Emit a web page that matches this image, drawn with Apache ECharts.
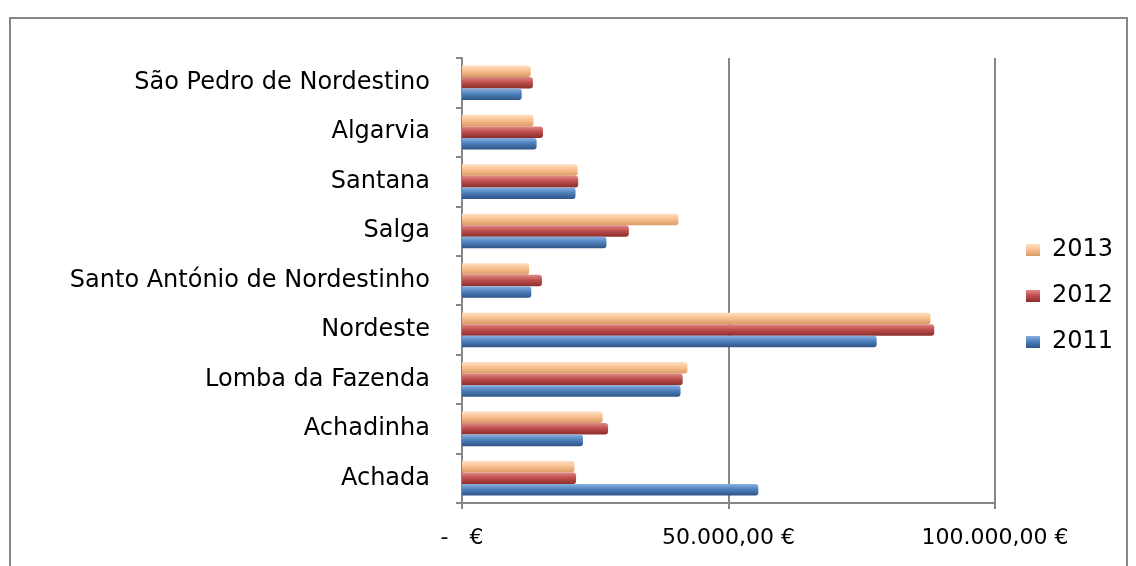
<!DOCTYPE html>
<html>
<head>
<meta charset="utf-8">
<script src="https://cdn.jsdelivr.net/npm/echarts@6/dist/echarts.min.js"></script>
<style>
  html, body { margin: 0; padding: 0; background: #fff; }
  #chart { width: 1136px; height: 566px; }
</style>
</head>
<body>
<div id="chart"></div>
<script>
// categories bottom -> top (echarts draws first category at the bottom)
const categories = [
  "Achada",
  "Achadinha",
  "Lomba da Fazenda",
  "Nordeste",
  "Santo António de Nordestinho",
  "Salga",
  "Santana",
  "Algarvia",
  "São Pedro de Nordestino",
];
const values2011 = [55600, 22700, 41000, 77800, 13000, 27100, 21300, 14000, 11200];
const values2012 = [21400, 27400, 41400, 88600, 15000, 31300, 21800, 15200, 13300];
const values2013 = [21100, 26400, 42300, 87900, 12600, 40600, 21700, 13400, 12900];
const xTicks = [0, 50000, 100000];

const fontFamily = "'DejaVu Sans', sans-serif";
const gray = "#868686";

function grad(light, base, dark) {
  return new echarts.graphic.LinearGradient(0, 0, 0, 1, [
    { offset: 0, color: light },
    { offset: 0.45, color: base },
    { offset: 1, color: dark },
  ]);
}

function euro(v) {
  if (v === 0) return "-   €";
  const s = String(Math.round(v)).replace(/\B(?=(\d{3})+(?!\d))/g, ".");
  return s + ",00 €";
}

const chart = echarts.init(document.getElementById("chart"));

// 2013 first so it sits on top of each group, like the original
const seriesConfig = [
  { name: "2013", data: values2013, color: "#FAC090", fill: grad("#fde0c4", "#FAC090", "#d89a66") },
  { name: "2012", data: values2012, color: "#C0504D", fill: grad("#e08a87", "#C0504D", "#8a2d2b") },
  { name: "2011", data: values2011, color: "#4F81BD", fill: grad("#8cb1e0", "#4F81BD", "#2f5485") },
];

chart.setOption({
  animation: false,
  backgroundColor: "#fff",
  graphic: [
    {
      type: "rect",
      shape: { x: 10, y: 18, width: 1117, height: 570 },
      style: { fill: "none", stroke: gray, lineWidth: 2 },
      silent: true,
    },
  ],
  grid: {
    left: 462,
    right: 141,
    top: 58,
    bottom: 63,
  },
  legend: {
    orient: "vertical",
    left: 1021,
    top: 233,
    itemWidth: 14,
    itemHeight: 12,
    itemGap: 22,
    icon: "rect",
    data: ["2013", "2012", "2011"],
    textStyle: { fontFamily, fontSize: 24, color: "#000", padding: [0, 0, 0, 7] },
  },
  xAxis: {
    type: "value",
    min: 0,
    max: 100000,
    interval: 50000,
    axisLine: { show: true, lineStyle: { color: gray, width: 2 } },
    axisTick: { show: true, length: 6, lineStyle: { color: gray, width: 2 } },
    axisLabel: {
      fontFamily,
      fontSize: 22,
      color: "#000",
      margin: 24,
      formatter: euro,
      customValues: xTicks,
    },
    splitLine: { show: true, lineStyle: { color: gray, width: 2 } },
  },
  yAxis: {
    type: "category",
    data: categories,
    offset: 5,
    axisLine: { show: true, lineStyle: { color: gray, width: 2 } },
    axisTick: { show: true, length: 6, lineStyle: { color: gray, width: 2 } },
    axisLabel: {
      fontFamily,
      fontSize: 24,
      color: "#000",
      margin: 27,
      padding: [6, 0, 0, 0],
    },
  },
  series: seriesConfig.map((s) => ({
    name: s.name,
    type: "bar",
    data: s.data,
    color: s.color,
    barGap: "0%",
    barCategoryGap: "30%",
    itemStyle: {
      color: s.fill,
      borderRadius: [0, 3, 3, 0],
    },
  })),
});
</script>
</body>
</html>
